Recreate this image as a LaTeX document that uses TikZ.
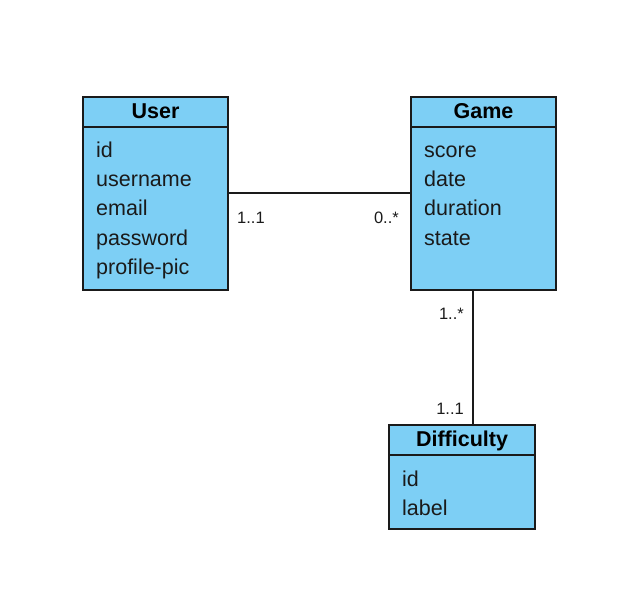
\documentclass[tikz,border=0pt]{standalone}
\usepackage{fontspec}
\setmainfont{Liberation Sans}
\usetikzlibrary{positioning}
\definecolor{classblue}{HTML}{7DCFF5}
\definecolor{inkline}{HTML}{1A1A1A}

\begin{document}
\begin{tikzpicture}[
    x=1pt, y=-1pt,
    font=\fontsize{21.5}{29}\selectfont,
    header/.style={rectangle, draw=inkline, line width=1.5pt, fill=classblue, minimum width=145pt, minimum height=30pt, inner sep=0pt, outer sep=0pt, text height=1.4em, text depth=0.15em, font=\fontsize{21.5}{29}\selectfont\bfseries},
    body/.style={rectangle, draw=inkline, line width=1.5pt, fill=classblue, minimum width=145pt, inner sep=0pt, outer sep=0pt},
    attr/.style={anchor=base west, inner sep=0pt, text=inkline},
    mult/.style={inner sep=0pt, text=inkline, font=\fontsize{16.5}{18}\selectfont},
    assoc/.style={draw=inkline, line width=1.5pt}
]
\useasboundingbox (0,0) rectangle (629,604);

% ==================== CLASSES ====================
\node[header] (user) at (155.5,112) {User};
\node[body, minimum height=163pt, below=0pt of user] (user-body) {};

\node[header] (game) at (483.5,112) {Game};
\node[body, minimum height=163pt, below=0pt of game] (game-body) {};

\node[header, minimum width=146pt] (difficulty) at (462,440) {Difficulty};
\node[body, minimum width=146pt, minimum height=74pt, below=0pt of difficulty] (difficulty-body) {};

% ==================== ATTRIBUTES ====================
\foreach \a [count=\i] in {id, username, email, password, profile-pic}
    \node[attr] (user-attr-\i) at (96,158+29*\i-29) {\a};

\foreach \a [count=\i] in {score, date, duration, state}
    \node[attr] (game-attr-\i) at (424,158+29*\i-29) {\a};

\foreach \a [count=\i] in {id, label}
    \node[attr] (difficulty-attr-\i) at (402,486+29*\i-29) {\a};

% ==================== ASSOCIATIONS ====================
\draw[assoc] ([yshift=15.5pt]user-body.east) -- ([yshift=15.5pt]game-body.west);
\draw[assoc] ([xshift=-10.5pt]game-body.south) -- ([xshift=-10.5pt]game-body.south |- difficulty.north);

% ==================== MULTIPLICITIES ====================
\node[mult, anchor=base west] (user-mult) at (237,223) {1..1};
\node[mult, anchor=base east] (game-mult-user) at (399,223) {0..*};
\node[mult, anchor=base east] (game-mult-diff) at (464,319) {1..*};
\node[mult, anchor=base east] (difficulty-mult) at (464,414) {1..1};

\end{tikzpicture}
\end{document}
